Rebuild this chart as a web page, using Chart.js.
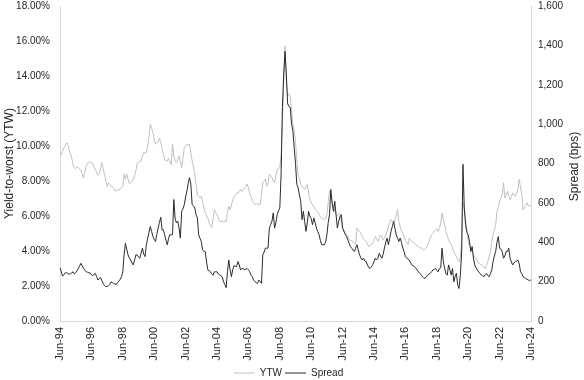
<!DOCTYPE html>
<html>
<head>
<meta charset="utf-8">
<script src="https://cdn.jsdelivr.net/npm/chart.js@4/dist/chart.umd.min.js"></script>
<style>
html,body{margin:0;padding:0;background:#fff;}
#wrap{width:584px;height:380px;}
</style>
</head>
<body>
<div id="wrap"><canvas id="c" width="584" height="380"></canvas></div>
<script>
// Monthly observations, Jun-94 .. Jun-24
const startYear = 1994, startMonth = 5; // June (0-based)
const monthNames = ['Jan','Feb','Mar','Apr','May','Jun','Jul','Aug','Sep','Oct','Nov','Dec'];

// Yield-to-worst (%), left axis
const ytw = [
  9.6, 9.5, 9.7, 9.9, 10.0, 10.2, 10.1, 9.8, 9.55, 9.3, 8.9, 8.76,
  8.7, 8.8, 8.76, 8.7, 8.6, 8.4, 8.18, 8.5, 8.86, 9.0, 9.05, 9.1,
  9.05, 9.0, 8.8, 8.66, 8.5, 8.34, 8.4, 8.7, 9.05, 8.7, 8.38, 8.0,
  7.7, 7.9, 7.8, 7.7, 7.65, 7.6, 7.42, 7.45, 7.5, 7.5, 7.55, 7.6,
  7.7, 8.38, 8.1, 8.4, 8.1, 7.84, 7.9, 8.0, 8.1, 8.3, 8.6, 9.0,
  9.1, 9.1, 9.15, 9.4, 9.62, 9.6, 9.6, 10.0, 10.5, 11.25, 11.0, 10.8,
  10.4, 10.1, 10.2, 10.2, 10.45, 10.2, 9.9, 9.5, 9.24, 9.15, 9.15, 9.3,
  9.1, 8.93, 10.1, 9.43, 9.15, 9.05, 9.2, 9.43, 9.1, 8.76, 9.3, 9.9,
  10.0, 10.1, 10.05, 10.1, 9.6, 9.14, 8.8, 8.38, 7.8, 7.23, 7.1, 7.04,
  7.13, 6.8, 6.46, 6.2, 6.0, 5.88, 5.6, 5.45, 5.35, 5.8, 6.36, 6.2,
  6.08, 5.9, 5.69, 5.7, 5.7, 5.69, 5.7, 5.69, 6.2, 6.56, 6.36, 6.6,
  6.94, 7.1, 7.23, 7.3, 7.3, 7.4, 7.52, 7.4, 7.5, 7.6, 7.7, 7.84,
  7.6, 7.3, 7.1, 6.88, 6.75, 6.65, 6.7, 6.69, 6.65, 6.65, 7.2, 7.9,
  8.0, 8.1, 7.7, 7.9, 8.38, 8.3, 8.2, 8.0, 7.9, 8.3, 8.67, 8.7,
  8.76, 9.5, 11.25, 13.74, 15.7, 13.5, 12.9, 12.98, 12.8, 12.0, 11.25, 10.87,
  10.3, 9.2, 8.3, 8.18, 7.8, 7.7, 7.6, 7.52, 7.7, 7.8, 7.3, 6.94,
  6.8, 6.6, 6.56, 6.4, 6.3, 6.27, 6.1, 5.95, 5.88, 5.85, 5.8, 5.85,
  6.08, 6.8, 7.42, 7.1, 6.75, 6.5, 6.27, 6.1, 6.0, 6.1, 6.17, 5.7,
  5.31, 5.2, 5.05, 4.92, 4.8, 4.64, 4.6, 4.58, 4.55, 4.45, 4.36, 5.31,
  5.2, 5.12, 5.0, 4.83, 4.7, 4.6, 4.55, 4.4, 4.26, 4.3, 4.4, 4.45,
  4.6, 4.83, 4.7, 4.55, 4.75, 4.92, 4.8, 4.64, 4.75, 4.92, 5.1, 5.4,
  5.6, 5.8, 5.7, 5.6, 5.8, 6.0, 6.36, 5.7, 5.4, 5.12, 5.0, 4.83,
  4.6, 4.5, 4.36, 4.75, 4.6, 4.55, 4.5, 4.45, 4.35, 4.3, 4.26, 4.2,
  4.17, 4.1, 4.07, 4.1, 4.17, 4.35, 4.55, 4.75, 4.93, 5.0, 5.12, 5.2,
  5.27, 5.12, 5.3, 5.6, 6.17, 5.8, 5.5, 5.12, 4.9, 4.64, 4.5, 4.36,
  4.2, 3.97, 3.8, 3.69, 3.5, 3.39, 3.59, 4.55, 6.8, 6.4, 5.79, 5.2,
  4.55, 4.3, 4.1, 3.97, 3.8, 3.65, 3.59, 3.45, 3.3, 3.25, 3.2, 3.15,
  3.05, 3.01, 3.2, 3.39, 3.7, 3.97, 4.5, 4.93, 5.2, 5.5, 6.27, 6.5,
  6.84, 7.0, 7.23, 7.9, 7.04, 7.2, 7.42, 7.1, 6.94, 7.1, 7.32, 7.2,
  7.13, 7.3, 7.52, 8.1, 7.6, 7.23, 6.36, 6.5, 6.56, 6.75, 6.6, 6.56,
  6.6
];

// Spread (bps), right axis
const spread = [
  270, 250, 228, 235, 245, 247, 240, 238, 240, 245, 250, 240,
  245, 255, 267, 280, 293, 280, 267, 258, 250, 248, 245, 245,
  235, 230, 236, 242, 225, 208, 215, 220, 205, 191, 180, 174,
  176, 179, 185, 199, 195, 191, 188, 186, 195, 203, 212, 225,
  250, 336, 395, 365, 336, 320, 310, 295, 285, 310, 336, 336,
  325, 319, 345, 370, 340, 327, 387, 420, 450, 480, 455, 430,
  415, 404, 440, 472, 500, 527, 463, 463, 438, 410, 387, 420,
  438, 438, 438, 617, 520, 498, 507, 472, 421, 557, 570, 591,
  630, 660, 700, 728, 694, 591, 585, 574, 540, 523, 438, 420,
  404, 361, 355, 353, 300, 259, 255, 250, 240, 233, 250, 250,
  250, 240, 233, 230, 225, 199, 185, 169, 250, 310, 260, 225,
  260, 281, 278, 276, 302, 285, 259, 267, 267, 259, 263, 267,
  260, 250, 233, 225, 208, 200, 195, 191, 208, 200, 191, 336,
  350, 370, 370, 370, 472, 490, 507, 549, 472, 500, 540, 560,
  574, 745, 1085, 1256, 1370, 1256, 1103, 1090, 1085, 1000, 966, 881,
  800, 694, 676, 640, 608, 515, 557, 506, 455, 500, 557, 532,
  520, 489, 523, 500, 472, 455, 438, 410, 387, 387, 387, 400,
  438, 500, 540, 668, 600, 557, 608, 540, 472, 506, 530, 540,
  472, 455, 440, 430, 412, 395, 378, 370, 360, 353, 370, 387,
  360, 336, 320, 310, 319, 305, 302, 285, 271, 267, 276, 285,
  302, 319, 310, 319, 344, 330, 319, 340, 370, 400, 421, 387,
  420, 455, 480, 506, 470, 438, 420, 404, 421, 400, 370, 353,
  327, 319, 315, 310, 295, 285, 280, 276, 268, 259, 250, 242,
  235, 225, 220, 216, 225, 233, 238, 242, 250, 259, 262, 267,
  258, 250, 267, 270, 370, 302, 267, 240, 233, 285, 260, 233,
  267, 199, 225, 242, 182, 165, 233, 350, 796, 574, 489, 450,
  438, 404, 353, 378, 320, 285, 270, 259, 250, 242, 233, 230,
  225, 235, 242, 230, 225, 240, 259, 302, 330, 353, 400, 429,
  370, 365, 353, 319, 330, 353, 353, 370, 319, 300, 285, 295,
  302, 305, 310, 290, 250, 240, 225, 220, 216, 212, 208, 205,
  210
];

// Category labels (one per month) and the every-two-years tick labels shown
const labels = ytw.map((_, i) => {
  const mi = startMonth + i;
  const y = startYear + Math.floor(mi / 12);
  return monthNames[mi % 12] + '-' + String(y % 100).padStart(2, '0');
});
const tickEvery = 24;

const leftTicks = [0, 2, 4, 6, 8, 10, 12, 14, 16, 18];
const rightTicks = [0, 200, 400, 600, 800, 1000, 1200, 1400, 1600];
const leftTitle = 'Yield-to-worst (YTW)';
const rightTitle = 'Spread (bps)';

const fmtThousands = v => String(v).replace(/\B(?=(\d{3})+(?!\d))/g, ',');
const txt = '#262626';
const axisLine = '#d9d9d9';
const fam = '"Liberation Sans", Arial, sans-serif';
const font = { family: fam, size: 10 };

// Right-hand axis title reading bottom-to-top (as in the source)
const rightTitlePlugin = {
  id: 'rightTitle',
  afterDraw(chart) {
    const ctx = chart.ctx, a = chart.chartArea;
    ctx.save();
    ctx.fillStyle = txt;
    ctx.font = '12px ' + fam;
    ctx.textAlign = 'center';
    ctx.textBaseline = 'middle';
    ctx.translate(chart.width - 9, (a.top + a.bottom) / 2 + 3);
    ctx.rotate(-Math.PI / 2);
    ctx.fillText(rightTitle, 0, 0);
    ctx.restore();
  }
};

new Chart(document.getElementById('c'), {
  type: 'line',
  data: {
    labels: labels,
    datasets: [
      { label: 'YTW', data: ytw, yAxisID: 'y', borderColor: '#c0c0c0', backgroundColor: '#c0c0c0',
        borderWidth: 1, pointRadius: 0, tension: 0, order: 2 },
      { label: 'Spread', data: spread, yAxisID: 'y1', borderColor: '#2b2b2b', backgroundColor: '#2b2b2b',
        borderWidth: 1, pointRadius: 0, tension: 0, order: 1 }
    ]
  },
  plugins: [rightTitlePlugin],
  options: {
    responsive: false,
    animation: false,
    layout: { padding: { left: 0, right: 7, top: 0, bottom: -8 } },
    plugins: {
      tooltip: { enabled: false },
      legend: {
        position: 'bottom',
        labels: {
          usePointStyle: true, pointStyle: 'line', pointStyleWidth: 21,
          color: txt, font: font, padding: 3,
          sort: (a, b) => a.datasetIndex - b.datasetIndex
        }
      }
    },
    scales: {
      x: {
        type: 'category',
        grid: { display: false, drawTicks: false, tickLength: 0 },
        border: { display: true, color: axisLine },
        afterFit: axis => { axis.height = 44; axis.paddingLeft = 0; axis.paddingRight = 0; },
        ticks: {
          autoSkip: false, minRotation: 90, maxRotation: 90, color: txt,
          font: { family: fam, size: 11 }, padding: 6,
          callback: (v, i) => (i % tickEvery === 0 ? labels[i] : null)
        }
      },
      y: {
        position: 'left', min: 0, max: 18,
        afterBuildTicks: axis => { axis.ticks = leftTicks.map(v => ({ value: v })); },
        afterFit: axis => { axis.width = 60; axis.paddingTop = 6; axis.paddingBottom = 0; },
        grid: { display: false, drawTicks: false, tickLength: 0 },
        border: { display: true, color: axisLine },
        ticks: { color: txt, font: font, padding: 10, callback: v => v.toFixed(2) + '%' },
        title: { display: true, text: leftTitle, color: txt,
                 font: { family: fam, size: 12 }, padding: { top: 2, bottom: 0 } }
      },
      y1: {
        position: 'right', min: 0, max: 1600,
        afterBuildTicks: axis => { axis.ticks = rightTicks.map(v => ({ value: v })); },
        afterFit: axis => { axis.width = 46; axis.paddingTop = 6; axis.paddingBottom = 0; },
        grid: { display: false, drawTicks: false, tickLength: 0 },
        border: { display: true, color: axisLine },
        ticks: { color: txt, font: font, padding: 7, callback: v => fmtThousands(v) },
        title: { display: false }
      }
    }
  }
});
</script>
</body>
</html>
